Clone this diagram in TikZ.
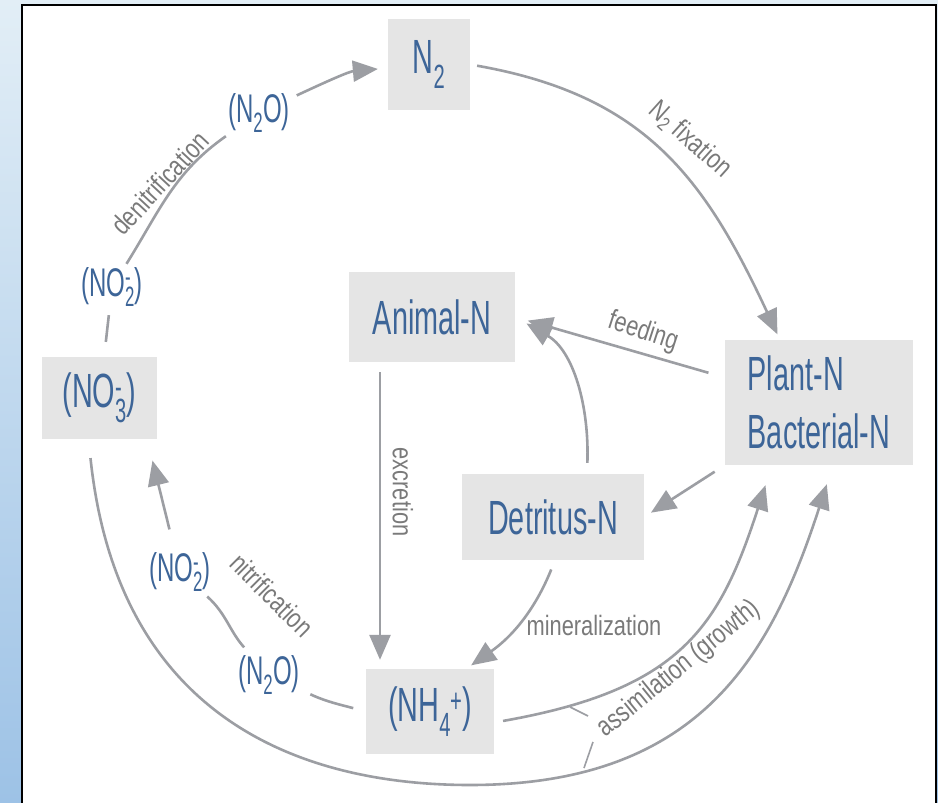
\documentclass[tikz,border=0pt]{standalone}
\usepackage{fontspec}
\newfontfamily\poolfont[FakeStretch=0.6]{Liberation Sans}
\newfontfamily\procfont[FakeStretch=0.78]{Liberation Sans}
\usepackage{xcolor}
\usepackage{tikz}
\usetikzlibrary{arrows.meta,positioning,calc}
\definecolor{poolblue}{HTML}{3D6598}
\definecolor{poolgray}{HTML}{E5E5E5}
\definecolor{flowgray}{HTML}{9C9EA3}
\definecolor{procgray}{HTML}{7A7A7A}
\definecolor{bgtop}{HTML}{E2EEF6}
\definecolor{bgbottom}{HTML}{9DC2E6}
\newcommand{\ionsub}[2]{\rlap{\textsuperscript{#2}}\textsubscript{#1}}
\tikzset{
  poolbox/.style={fill=poolgray, text=poolblue, inner sep=0pt,
                  font=\poolfont\fontsize{48}{58}\selectfont, align=center},
  species/.style={text=poolblue, inner sep=3pt,
                  font=\poolfont\fontsize{40}{42}\selectfont},
  proclabel/.style={text=procgray, inner sep=1pt,
                    font=\procfont\fontsize{28}{30}\selectfont},
  flowline/.style={draw=flowgray, line width=2.6pt},
  flowarrow/.style={flowline, -{Triangle[length=25pt,width=21pt]}},
  tickline/.style={draw=flowgray, line width=1.6pt}
}

\begin{document}
\begin{tikzpicture}[x=1pt, y=1pt]
    \useasboundingbox (0,0) rectangle (938,-803);
    \clip (0,0) rectangle (938,-803);

    % frame
    \shade[top color=bgtop, bottom color=bgbottom] (0,0) rectangle (938,-803);
    \fill[white] (22,-5) rectangle (936,-812);
    \draw[black, line width=2.5pt] (22,-812) -- (22,-5) -- (936,-5) -- (936,-812);

    % pools
    \node[poolbox, minimum width=82pt,  minimum height=91pt]  (N2)       at (429,-64.5)  {N\textsubscript{2}};
    \node[poolbox, minimum width=166pt, minimum height=90pt]  (Animal)   at (432,-317)   {Animal-N};
    \node[poolbox, minimum width=188pt, minimum height=125pt, align=left] (Plant) at (819,-402.5) {Plant-N\\Bacterial-N};
    \node[poolbox, minimum width=182pt, minimum height=86pt]  (Detritus) at (553,-517)   {Detritus-N};
    \node[poolbox, minimum width=115pt, minimum height=82pt]  (NO3)      at (99.5,-398)  {(NO\ionsub{3}{-})};
    \node[poolbox, minimum width=128pt, minimum height=85pt]  (NH4)      at (430,-711.5) {(NH\textsubscript{4}\kern-1pt\textsuperscript{+})};

    % intermediates
    \node[species] (no2a) at (112,-287) {(NO\ionsub{2}{-})};
    \node[species] (n2oa) at (259,-113) {(N\textsubscript{2}O)};
    \node[species] (no2b) at (180,-572) {(NO\ionsub{2}{-})};
    \node[species] (n2ob) at (269,-675) {(N\textsubscript{2}O)};

    % denitrification
    \draw[flowline, shorten <=5pt, shorten >=15pt] (no2a) -- (NO3);
    \draw[flowline] (no2a) to[out=58,in=-145] (n2oa);
    \draw[flowarrow, shorten <=4pt, shorten >=10pt] (n2oa) to[out=25,in=185] (N2);

    % N2 fixation
    \draw[flowarrow, shorten <=7pt, shorten >=6pt] (N2.east) to[out=-10,in=115,looseness=1.1] ([xshift=-39pt]Plant.north);

    % nitrification
    \draw[flowline, shorten <=13pt, shorten >=8pt] (NH4.west) to[out=165,in=-25] (n2ob);
    \draw[flowline, shorten <=6pt, shorten >=2pt] (n2ob) to[out=132,in=-42] (no2b);
    \draw[flowarrow, shorten <=20pt, shorten >=22pt] (no2b) -- ([xshift=-10pt]NO3.south east);

    % assimilation
    \coordinate (arcbot) at (470,-785);
    \draw[flowarrow, shorten <=19pt, shorten >=20pt] ([xshift=-11pt]NO3.south)
      to[out=-84,in=180,out distance=280pt,in distance=170pt] (arcbot)
      to[out=0,in=-108,out distance=230pt,in distance=200pt] ([xshift=14pt]Plant.south);
    \draw[flowarrow, shorten <=9pt, shorten >=21pt] ([yshift=-11pt]NH4.east)
      to[out=10,in=-108,out distance=190pt,in distance=170pt] ([xshift=-47pt]Plant.south);
    \coordinate (tka) at (570,-707);
    \coordinate (tkb) at (588,-716);
    \coordinate (tkc) at (593,-742);
    \coordinate (tkd) at (584,-768);
    \draw[tickline] (tka) -- (tkb);
    \draw[tickline] (tkc) -- (tkd);

    % food web
    \draw[flowarrow, shorten <=10pt, shorten >=9pt] ([xshift=-52pt]Animal.south) -- ([xshift=-50pt]NH4.north);
    \draw[flowarrow, shorten <=17pt, shorten >=13pt] ([yshift=25pt]Plant.west) -- (Animal.east);
    \draw[flowarrow, shorten <=11pt, shorten >=13pt] ([xshift=34pt]Detritus.north) to[out=88,in=-30] (Animal.east);
    \draw[flowarrow, shorten <=12pt, shorten >=8pt] (Plant.south west) -- (Detritus.east);
    \draw[flowarrow, shorten <=10pt, shorten >=6pt] ([xshift=2pt]Detritus.south) to[out=-112,in=35] ([xshift=-28pt]NH4.north east);

    % process labels
    \node[proclabel, rotate=47]  (lbldenit)  at (160,-183) {denitrification};
    \node[proclabel, rotate=-42] (lblfix)    at (690,-140) {N\textsubscript{2} fixation};
    \node[proclabel, rotate=-18] (lblfeed)   at (643,-332) {feeding};
    \node[proclabel, rotate=-90] (lblexcr)   at (403,-492) {excretion};
    \node[proclabel]             (lblmin)    at (594,-625) {mineralization};
    \node[proclabel, rotate=-45] (lblnitr)   at (272,-595) {nitrification};
    \node[proclabel, rotate=39]  (lblassim)  at (679,-669) {assimilation (growth)};
\end{tikzpicture}
\end{document}
